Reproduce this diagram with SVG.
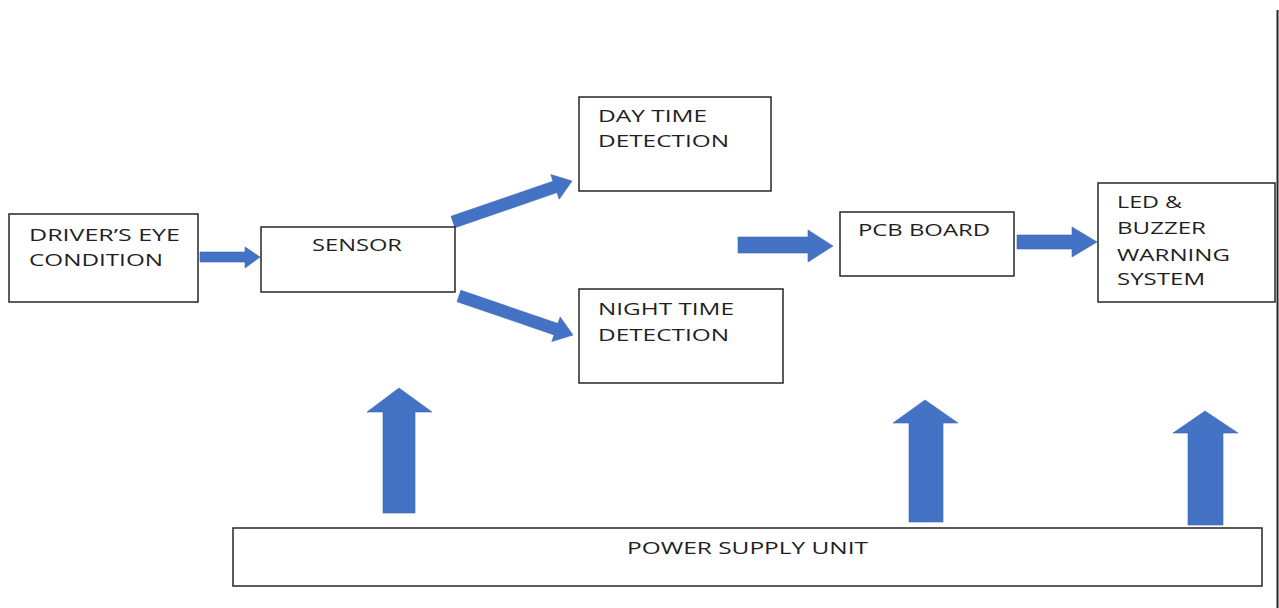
<svg xmlns="http://www.w3.org/2000/svg" width="1279" height="608" viewBox="0 0 1279 608">
<style>
.box{fill:#fff;stroke:#262626;stroke-width:1.5}
.arr{fill:#4472C4;stroke:#3b66b3;stroke-width:0.6}
.t{font-family:"Open Sans","Liberation Sans",sans-serif;font-size:16.5px;fill:#1f1f1f}
</style>
<rect width="1279" height="608" fill="#fff"/>
<line x1="1277.5" y1="10" x2="1277.5" y2="608" stroke="#262626" stroke-width="2"/>
<g id="connectors">
<polygon class="arr" points="200,252 245,252 245,247 260,257 245,268 245,262 200,262"/>
<polygon class="arr" points="455,227.7 451,216.3 553,181.2 550.8,174.6 572,181 559.2,199.2 557,192.6"/>
<polygon class="arr" points="460.9,290.3 457.1,301.7 554.1,334.9 551.8,341.5 573,335 560.2,316.9 557.9,323.5"/>
<polygon class="arr" points="738,237 808,237 808,230 833,246 808,262 808,253 738,253"/>
<polygon class="arr" points="1017,235 1072,235 1072,227 1097,242 1072,257 1072,249 1017,249"/>
<polygon class="arr" points="383,513 383,412 367,412 399,388 432,412 415,412 415,513"/>
<polygon class="arr" points="909,522 909,423 893,423 925,400 958,423 943,423 943,522"/>
<polygon class="arr" points="1188,525 1188,433 1173,433 1205,411 1238,433 1223,433 1223,525"/>
</g>
<g id="driver">
<rect class="box" x="9" y="214" width="189" height="88"/>
<text class="t" x="29" y="241" textLength="151" lengthAdjust="spacingAndGlyphs">DRIVER’S EYE</text>
<text class="t" x="29" y="266" textLength="134" lengthAdjust="spacingAndGlyphs">CONDITION</text>
</g>
<g id="sensor">
<rect class="box" x="261" y="227" width="194" height="65"/>
<text class="t" x="312" y="251" textLength="90" lengthAdjust="spacingAndGlyphs">SENSOR</text>
</g>
<g id="day">
<rect class="box" x="579" y="97" width="192" height="94"/>
<text class="t" x="598" y="122" textLength="109" lengthAdjust="spacingAndGlyphs">DAY TIME</text>
<text class="t" x="598" y="147" textLength="131" lengthAdjust="spacingAndGlyphs">DETECTION</text>
</g>
<g id="night">
<rect class="box" x="579" y="289" width="204" height="94"/>
<text class="t" x="598" y="315" textLength="136" lengthAdjust="spacingAndGlyphs">NIGHT TIME</text>
<text class="t" x="598" y="341" textLength="131" lengthAdjust="spacingAndGlyphs">DETECTION</text>
</g>
<g id="pcb">
<rect class="box" x="840" y="212" width="174" height="64"/>
<text class="t" x="858" y="236" textLength="132" lengthAdjust="spacingAndGlyphs">PCB BOARD</text>
</g>
<g id="led">
<rect class="box" x="1098" y="183" width="177" height="119"/>
<text class="t" x="1117" y="208" textLength="65" lengthAdjust="spacingAndGlyphs">LED &amp;</text>
<text class="t" x="1117" y="234" textLength="89" lengthAdjust="spacingAndGlyphs">BUZZER</text>
<text class="t" x="1117" y="261" textLength="113" lengthAdjust="spacingAndGlyphs">WARNING</text>
<text class="t" x="1117" y="285" textLength="88" lengthAdjust="spacingAndGlyphs">SYSTEM</text>
</g>
<g id="power">
<rect class="box" x="233" y="528" width="1029" height="58"/>
<text class="t" x="627" y="554" textLength="241" lengthAdjust="spacingAndGlyphs">POWER SUPPLY UNIT</text>
</g>
</svg>
